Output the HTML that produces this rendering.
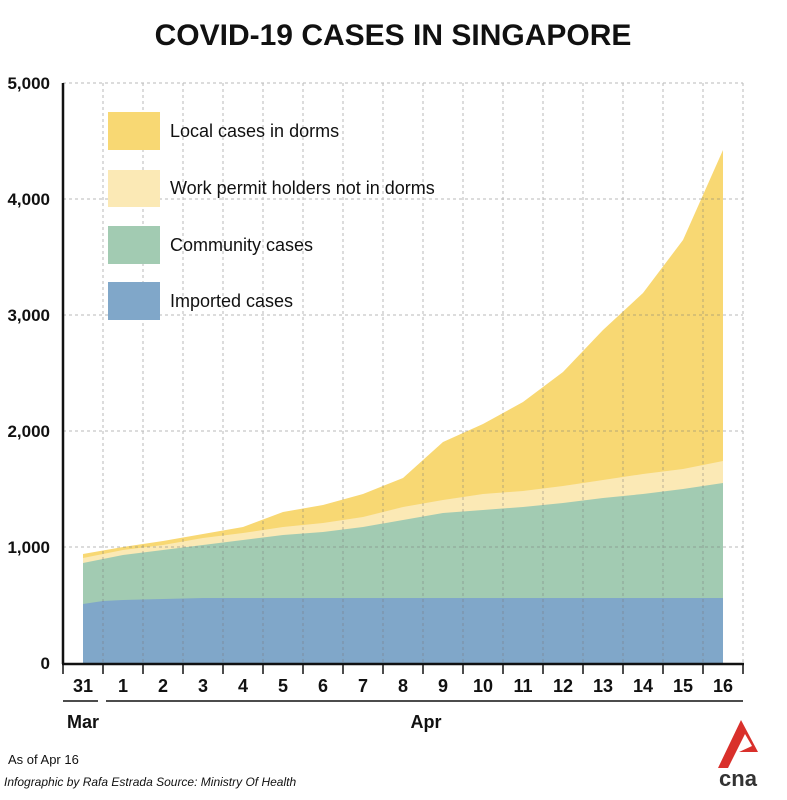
<!DOCTYPE html>
<html><head><meta charset="utf-8"><style>body{margin:0;background:#fff}svg{display:block}</style></head><body>
<svg width="787" height="800" viewBox="0 0 787 800" font-family="Liberation Sans, sans-serif">
<rect width="787" height="800" fill="#fff"/>
<text x="393" y="45" text-anchor="middle" font-size="30" font-weight="bold" fill="#111">COVID-19 CASES IN SINGAPORE</text>
<polygon fill="#f8d873" points="83,554 123,547 163,541 203,534 243,527 283,512 323,505 363,494 403,478 443,442 483,424 523,402 563,372 603,330 643,293 683,240 723,150 723,664 83,664"/>
<polygon fill="#fbe9b5" points="83,558 123,550 163,545 203,538 243,533 283,527 323,523 363,517 403,507 443,500 483,494 523,491 563,486 603,480 643,474 683,469 723,461 723,664 83,664"/>
<polygon fill="#a2cbb2" points="83,563 123,555 163,550 203,545 243,540 283,535 323,532 363,527 403,520 443,513 483,510 523,507 563,503 603,498 643,494 683,489 723,483 723,664 83,664"/>
<polygon fill="#80a7c9" points="83,604 103,601 123,600 163,599 203,598 723,598 723,664 83,664"/>
<g stroke="#777" stroke-width="1" stroke-dasharray="3,3" opacity="0.5">
<line x1="63" y1="547" x2="743" y2="547"/><line x1="63" y1="431" x2="743" y2="431"/><line x1="63" y1="315" x2="743" y2="315"/><line x1="63" y1="199" x2="743" y2="199"/><line x1="63" y1="83" x2="743" y2="83"/>
<line x1="103" y1="83" x2="103" y2="664"/><line x1="143" y1="83" x2="143" y2="664"/><line x1="183" y1="83" x2="183" y2="664"/><line x1="223" y1="83" x2="223" y2="664"/><line x1="263" y1="83" x2="263" y2="664"/><line x1="303" y1="83" x2="303" y2="664"/><line x1="343" y1="83" x2="343" y2="664"/><line x1="383" y1="83" x2="383" y2="664"/><line x1="423" y1="83" x2="423" y2="664"/><line x1="463" y1="83" x2="463" y2="664"/><line x1="503" y1="83" x2="503" y2="664"/><line x1="543" y1="83" x2="543" y2="664"/><line x1="583" y1="83" x2="583" y2="664"/><line x1="623" y1="83" x2="623" y2="664"/><line x1="663" y1="83" x2="663" y2="664"/><line x1="703" y1="83" x2="703" y2="664"/><line x1="743" y1="83" x2="743" y2="664"/>
</g>
<g stroke="#111" stroke-width="2.5" fill="none">
<line x1="63" y1="83" x2="63" y2="664"/><line x1="62" y1="664" x2="744" y2="664"/>
</g>
<g stroke="#111" stroke-width="1.5">
<line x1="63" y1="664" x2="63" y2="674"/><line x1="103" y1="664" x2="103" y2="674"/><line x1="143" y1="664" x2="143" y2="674"/><line x1="183" y1="664" x2="183" y2="674"/><line x1="223" y1="664" x2="223" y2="674"/><line x1="263" y1="664" x2="263" y2="674"/><line x1="303" y1="664" x2="303" y2="674"/><line x1="343" y1="664" x2="343" y2="674"/><line x1="383" y1="664" x2="383" y2="674"/><line x1="423" y1="664" x2="423" y2="674"/><line x1="463" y1="664" x2="463" y2="674"/><line x1="503" y1="664" x2="503" y2="674"/><line x1="543" y1="664" x2="543" y2="674"/><line x1="583" y1="664" x2="583" y2="674"/><line x1="623" y1="664" x2="623" y2="674"/><line x1="663" y1="664" x2="663" y2="674"/><line x1="703" y1="664" x2="703" y2="674"/><line x1="743" y1="664" x2="743" y2="674"/>
<line x1="63" y1="701" x2="98" y2="701"/><line x1="106" y1="701" x2="743" y2="701"/>
</g>
<g font-size="17" font-weight="bold" fill="#111" text-anchor="end">
<text x="50" y="669">0</text><text x="50" y="553">1,000</text><text x="50" y="437">2,000</text><text x="50" y="321">3,000</text><text x="50" y="205">4,000</text><text x="50" y="89">5,000</text>
</g>
<g font-size="18" font-weight="bold" fill="#111" text-anchor="middle">
<text x="83" y="692">31</text><text x="123" y="692">1</text><text x="163" y="692">2</text><text x="203" y="692">3</text><text x="243" y="692">4</text><text x="283" y="692">5</text><text x="323" y="692">6</text><text x="363" y="692">7</text><text x="403" y="692">8</text><text x="443" y="692">9</text><text x="483" y="692">10</text><text x="523" y="692">11</text><text x="563" y="692">12</text><text x="603" y="692">13</text><text x="643" y="692">14</text><text x="683" y="692">15</text><text x="723" y="692">16</text>
<text x="83" y="728">Mar</text><text x="426" y="728">Apr</text>
</g>
<rect x="108" y="112" width="52" height="38" fill="#f8d873"/>
<rect x="108" y="170" width="52" height="37" fill="#fbe9b5"/>
<rect x="108" y="226" width="52" height="38" fill="#a2cbb2"/>
<rect x="108" y="282" width="52" height="38" fill="#80a7c9"/>
<g font-size="18" fill="#111">
<text x="170" y="137">Local cases in dorms</text>
<text x="170" y="194">Work permit holders not in dorms</text>
<text x="170" y="251">Community cases</text>
<text x="170" y="307">Imported cases</text>
</g>
<text x="8" y="764" font-size="13" fill="#111">As of Apr 16</text>
<text x="4" y="786" font-size="12" font-style="italic" fill="#111">Infographic by Rafa Estrada    Source: Ministry Of Health</text>
<polygon points="741,720 718,768 728,768 745,734 752,746 739,752 758,752" fill="#d9302b"/>
<text x="738" y="786" font-size="22" font-weight="bold" fill="#333" text-anchor="middle">cna</text>
</svg>
</body></html>
